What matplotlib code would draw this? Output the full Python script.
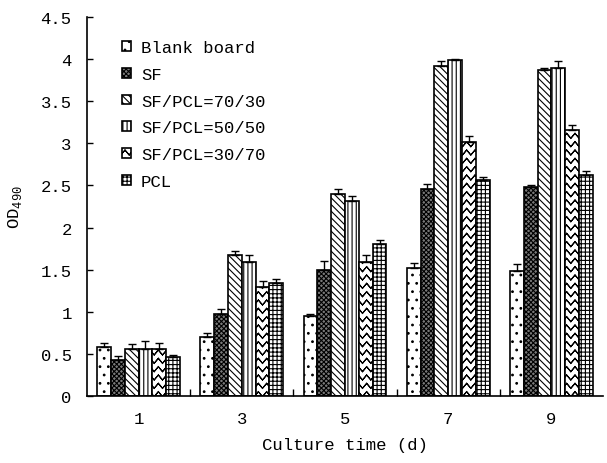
import numpy as np
import matplotlib
matplotlib.use("Agg")
import matplotlib.pyplot as plt
from matplotlib import hatch as mhatch
from matplotlib.path import Path

# ---------------- data ----------------
days = ["1", "3", "5", "7", "9"]
series = ["Blank board", "SF", "SF/PCL=70/30", "SF/PCL=50/50", "SF/PCL=30/70", "PCL"]
blank = [0.585, 0.697, 0.946, 1.517, 1.49]
sf = [0.43, 0.974, 1.50, 2.46, 2.48]
sf7030 = [0.555, 1.67, 2.40, 3.92, 3.87]
sf5050 = [0.555, 1.595, 2.31, 3.99, 3.90]
sf3070 = [0.555, 1.30, 1.59, 3.02, 3.16]
pcl = [0.46, 1.345, 1.80, 2.57, 2.63]
err_blank = [0.05, 0.047, 0.03, 0.06, 0.075]
err_sf = [0.05, 0.063, 0.10, 0.063, 0.03]
err_7030 = [0.067, 0.047, 0.06, 0.063, 0.028]
err_5050 = [0.095, 0.075, 0.06, 0.012, 0.08]
err_3070 = [0.08, 0.06, 0.08, 0.063, 0.063]
err_pcl = [0.03, 0.047, 0.047, 0.036, 0.047]
yticks = [0, 0.5, 1, 1.5, 2, 2.5, 3, 3.5, 4, 4.5]
ytick_labels = ["0", "0.5", "1", "1.5", "2", "2.5", "3", "3.5", "4", "4.5"]

values = [blank, sf, sf7030, sf5050, sf3070, pcl]
errors = [err_blank, err_sf, err_7030, err_5050, err_3070, err_pcl]


# -------- custom zigzag (chevron) hatch --------
class ZigZagHatch(mhatch.HatchPatternBase):
    def __init__(self, hatch, density):
        self.num_lines = int(hatch.count('v') * density)
        m = 2 * self.num_lines + 1
        self.num_vertices = (self.num_lines + 1) * (2 * m - 1) if self.num_lines else 0

    def set_vertices_and_codes(self, vertices, codes):
        n = self.num_lines
        idx = 0
        for i in range(n + 1):
            y = i / n
            pts = [(k / (2 * n), y - (0.6 / n if k % 2 else 0.0)) for k in range(2 * n + 1)]
            pts = pts + pts[-2::-1]  # go forward and back: zero-area, stroke only
            for k, p in enumerate(pts):
                vertices[idx] = p
                codes[idx] = Path.MOVETO if k == 0 else Path.LINETO
                idx += 1


mhatch._hatch_types.append(ZigZagHatch)
try:
    mhatch._validate_hatch_pattern = lambda h: None
except Exception:
    pass

plt.rcParams['font.family'] = ['Liberation Mono', 'DejaVu Sans']
plt.rcParams['hatch.linewidth'] = 0.8
plt.rcParams['mathtext.fontset'] = 'custom'
plt.rcParams['mathtext.rm'] = 'Liberation Mono'

fig = plt.figure(figsize=(6.07, 4.64), dpi=100)
ax = fig.add_axes([0.1433, 0.1444, 0.8501, 0.8166])

styles = [
    dict(facecolor='white', hatch='..'),
    dict(facecolor='#7a7a7a', hatch='xxxxxxx'),
    dict(facecolor='white', hatch='\\\\\\\\\\'),
    dict(facecolor='white', hatch='||||'),
    dict(facecolor='white', hatch='vv'),
    dict(facecolor='white', hatch='++++'),
]

x = np.arange(len(days))
w = 0.134
for j, (vals, errs, st) in enumerate(zip(values, errors, styles)):
    pos = x + (j - 2.5) * w
    ax.bar(pos, vals, width=w, edgecolor='black', linewidth=1.2,
           label=series[j], zorder=2, **st)
    ax.errorbar(pos, vals, yerr=[np.zeros(len(errs)), errs], fmt='none',
                ecolor='black', elinewidth=1.0, capsize=3, capthick=1.0, zorder=3)

ax.set_xlim(-0.5, len(days) - 0.5)
ax.set_ylim(0, 4.5)
ax.set_yticks(yticks)
ax.set_yticklabels(ytick_labels)
ax.set_xticks(x)
ax.set_xticklabels(days)
ax.set_xticks(np.arange(0.5, len(days) - 0.5, 1), minor=True)
ax.tick_params(axis='x', which='major', length=0, pad=11, labelsize=12.4)
ax.tick_params(axis='x', which='minor', direction='in', length=5, width=1.0)
ax.tick_params(axis='y', direction='in', length=4, width=1.0, pad=11, labelsize=12.4)

for s in ['top', 'right']:
    ax.spines[s].set_visible(False)
for s in ['left', 'bottom']:
    ax.spines[s].set_linewidth(1.2)

ax.set_xlabel("Culture time (d)", fontsize=12.4, labelpad=8)
ax.set_ylabel("OD$_{490}$", fontsize=12.4, labelpad=12)

leg = ax.legend(loc='upper left', bbox_to_anchor=(0.0545, 0.957), frameon=False,
                fontsize=12.4, handlelength=0.5, handleheight=0.5,
                handletextpad=0.6, labelspacing=0.68, borderaxespad=0)

fig.savefig("out.png", dpi=100)
